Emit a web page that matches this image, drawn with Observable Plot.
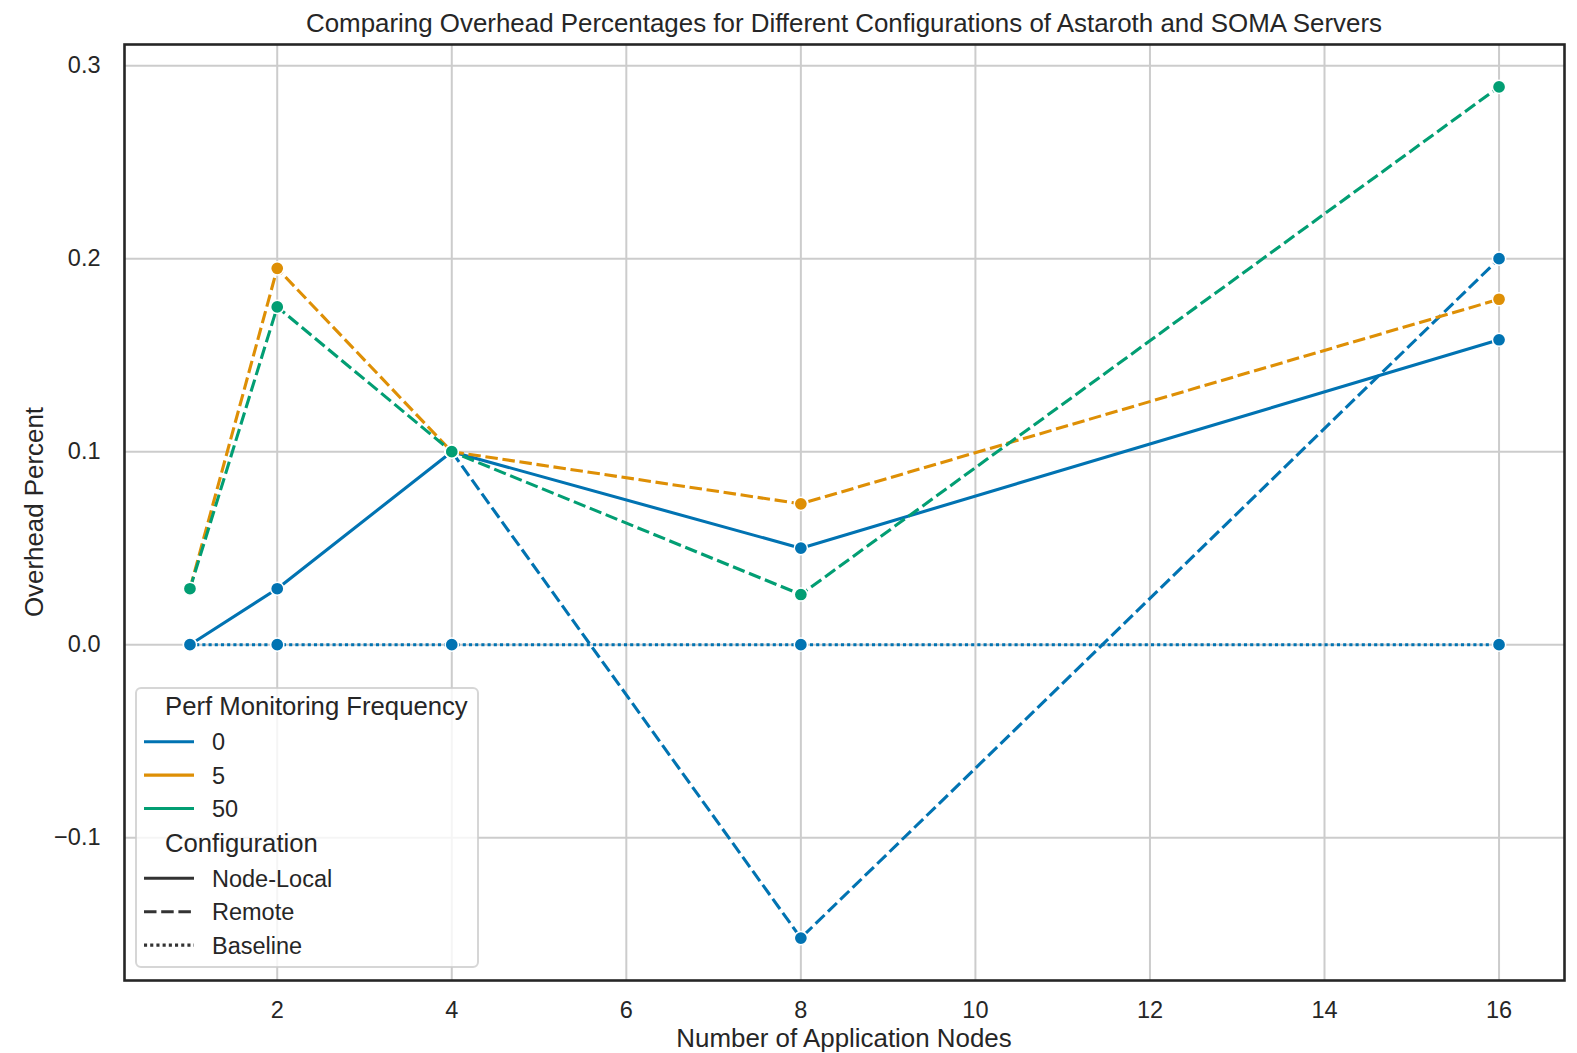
<!DOCTYPE html>
<html>
<head>
<meta charset="utf-8">
<script src="https://cdn.jsdelivr.net/npm/d3@7"></script>
<script src="https://cdn.jsdelivr.net/npm/@observablehq/plot@0.6"></script>
<style>
  html, body { margin: 0; padding: 0; background: #fff; }
  #chart svg { display: block; }
</style>
</head>
<body>
<div id="chart"></div>
<script>
// ---- data ----
const nodes = [1, 2, 4, 8, 16];
const localFreq0   = [0, 0.029, 0.1, 0.050, 0.158];
const remoteFreq0  = [null, null, 0.1, -0.152, 0.200];
const baselineFreq0 = [0, 0, 0, 0, 0];
const remoteFreq5  = [0.029, 0.195, 0.1, 0.073, 0.179];
const remoteFreq50 = [0.029, 0.175, 0.1, 0.026, 0.289];

const freqLabels = ["0", "5", "50"];
const configLabels = ["Node-Local", "Remote", "Baseline"];
const xTicks = [2, 4, 6, 8, 10, 12, 14, 16];
const yTicks = [-0.1, 0.0, 0.1, 0.2, 0.3];

const titleText = "Comparing Overhead Percentages for Different Configurations of Astaroth and SOMA Servers";
const xLabel = "Number of Application Nodes";
const yLabel = "Overhead Percent";
const freqTitle = "Perf Monitoring Frequency";
const configTitle = "Configuration";

// ---- styles ----
const colors = {"0": "#0173b2", "5": "#de8f05", "50": "#029e73"};
const dashes = {"Node-Local": null, "Remote": "12.5,4.7", "Baseline": "3.1,3.1"};
const LW = 3.1;
const FONT = "'Liberation Sans', Arial, sans-serif";
const INK = "#262626";

const series = [
  {freq: "0", config: "Node-Local", values: localFreq0},
  {freq: "0", config: "Remote", values: remoteFreq0},
  {freq: "0", config: "Baseline", values: baselineFreq0},
  {freq: "5", config: "Remote", values: remoteFreq5},
  {freq: "50", config: "Remote", values: remoteFreq50}
];

const W = 1577, H = 1053;
const mL = 124, mR = 13, mT = 44, mB = 73;

const marks = [
  Plot.ruleX(xTicks, {stroke: "#cccccc", strokeWidth: 2}),
  Plot.ruleY(yTicks, {stroke: "#cccccc", strokeWidth: 2})
];
for (const s of series) {
  const rows = nodes.map((n, i) => ({x: n, y: s.values[i]})).filter(d => d.y != null);
  marks.push(Plot.line(rows, {x: "x", y: "y", stroke: colors[s.freq], strokeWidth: LW,
    strokeDasharray: dashes[s.config] || undefined, strokeLinecap: "butt"}));
  marks.push(Plot.dot(rows, {x: "x", y: "y", fill: colors[s.freq], stroke: "white", strokeWidth: 1.5, r: 6.6}));
}
marks.push(Plot.frame({stroke: INK, strokeWidth: 2.6}));
marks.push(Plot.text(xTicks, {x: d => d, frameAnchor: "bottom", lineAnchor: "top", dy: 21, text: d => String(d), fill: INK, fontSize: 23.5}));
const yfmt = d3.format(".1f");
marks.push(Plot.text(yTicks, {y: d => d, frameAnchor: "left", textAnchor: "end", dx: -24, text: d => yfmt(d), fill: INK, fontSize: 23.5}));

const chart = Plot.plot({
  width: W, height: H,
  marginLeft: mL, marginRight: mR, marginTop: mT, marginBottom: mB,
  x: {domain: [0.25, 16.75], axis: null},
  y: {domain: [-0.174, 0.311], axis: null},
  style: {fontFamily: FONT, fontSize: "23px", color: INK, background: "white"},
  marks
});
document.getElementById("chart").appendChild(chart);

// ---- decorations: title, axis labels, legend ----
const svg = d3.select(chart);
svg.append("text").attr("x", (mL + W - mR) / 2).attr("y", 32)
  .attr("text-anchor", "middle").attr("fill", INK)
  .style("font-family", FONT).style("font-size", "25.9px").text(titleText);
svg.append("text").attr("x", (mL + W - mR) / 2).attr("y", 1047)
  .attr("text-anchor", "middle").attr("fill", INK)
  .style("font-family", FONT).style("font-size", "25.9px").text(xLabel);
svg.append("text").attr("transform", `translate(43,${(mT + H - mB) / 2}) rotate(-90)`)
  .attr("text-anchor", "middle").attr("fill", INK)
  .style("font-family", FONT).style("font-size", "25.9px").text(yLabel);

const lg = svg.append("g");
lg.append("rect").attr("x", 136).attr("y", 688).attr("width", 342).attr("height", 279)
  .attr("rx", 5).attr("fill", "white").attr("fill-opacity", 0.8)
  .attr("stroke", "#cccccc").attr("stroke-opacity", 0.8).attr("stroke-width", 2);
const legText = (x, y, t, size) => lg.append("text").attr("x", x).attr("y", y).attr("fill", INK)
  .attr("text-anchor", "start")
  .style("font-family", FONT).style("font-size", size + "px").text(t);
const legLine = (y, color, dash) => {
  const l = lg.append("line").attr("x1", 144).attr("x2", 194).attr("y1", y).attr("y2", y)
    .attr("stroke", color).attr("stroke-width", LW);
  if (dash) l.attr("stroke-dasharray", dash);
};
const pitch = 33.4;
legText(165, 715, freqTitle, 25.7);
freqLabels.forEach((f, i) => {
  const cy = 741.7 + i * pitch;
  legLine(cy, colors[f], null);
  legText(212, cy + 8.4, f, 23.5);
});
legText(165, 852, configTitle, 25.7);
configLabels.forEach((c, i) => {
  const cy = 878.3 + i * pitch;
  legLine(cy, "#333333", dashes[c]);
  legText(212, cy + 8.4, c, 23.5);
});
</script>
</body>
</html>
